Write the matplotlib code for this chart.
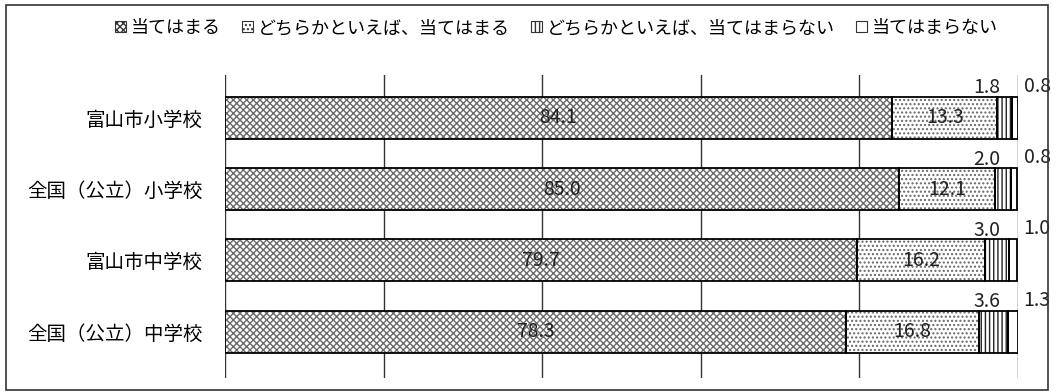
import matplotlib.pyplot as plt
from matplotlib.patches import Rectangle, Patch

plt.rcParams['font.family'] = ['Noto Sans CJK JP', 'DejaVu Sans']
plt.rcParams['hatch.linewidth'] = 1.0

# data
schools = ['富山市小学校', '全国（公立）小学校', '富山市中学校', '全国（公立）中学校']
series_names = ['当てはまる', 'どちらかといえば、当てはまる',
                'どちらかといえば、当てはまらない', '当てはまらない']
agree = [84.1, 85.0, 79.7, 78.3]
rather_agree = [13.3, 12.1, 16.2, 16.8]
rather_disagree = [1.8, 2.0, 3.0, 3.6]
disagree = [0.8, 0.8, 1.0, 1.3]

series = [agree, rather_agree, rather_disagree, disagree]
hatches = ['xxxxx', '....', '||||', '']
hatch_colors = ['#6a6a6a', '#666666', '#222222', 'black']

fig = plt.figure(figsize=(10.56, 3.92), dpi=100)
ax = fig.add_axes([225 / 1056, 1 - 378 / 392, (1018 - 225) / 1056, 303 / 392])

y = list(range(len(schools)))
left = [0.0] * len(schools)
handles = []
for vals, name, h, hc in zip(series, series_names, hatches, hatch_colors):
    # hatch layer in grey, then a black outline on top
    ax.barh(y, vals, left=left, height=0.59, color='white',
            edgecolor=hc, linewidth=0, hatch=h, zorder=2)
    ax.barh(y, vals, left=left, height=0.59, fill=False,
            edgecolor='black', linewidth=1.3, zorder=2.5)
    handles.append(Patch(facecolor='white', edgecolor='#333333', hatch=h,
                         linewidth=0.8, label=name))
    left = [a + b for a, b in zip(left, vals)]

for i in y:
    ax.text(agree[i] / 2, i, f'{agree[i]:.1f}', ha='center', va='center',
            fontsize=14, color='#222222', zorder=3)
    ax.text(agree[i] + rather_agree[i] / 2, i, f'{rather_agree[i]:.1f}',
            ha='center', va='center', fontsize=14, color='#222222', zorder=3)
    ax.text(97.8, i - 0.42, f'{rather_disagree[i]:.1f}', ha='right', va='center',
            fontsize=14, color='#222222')
    ax.text(100.7, i - 0.44, f'{disagree[i]:.1f}', ha='left', va='center',
            fontsize=14, color='#222222')

ax.set_xlim(0, 100)
ax.set_ylim(3.65, -0.6)
ax.set_xticks([0, 20, 40, 60, 80, 100])
ax.set_xticklabels([])
ax.tick_params(axis='x', length=0)
ax.grid(axis='x', color='#333333', linewidth=1.0, zorder=0)
ax.set_axisbelow(True)
ax.set_yticks(y)
ax.set_yticklabels(schools, fontsize=14)
ax.tick_params(axis='y', length=0, pad=16)
for s in ax.spines.values():
    s.set_visible(False)

fig.legend(handles=handles, loc='center', bbox_to_anchor=(0.527, 1 - 28 / 392),
           ncol=4, frameon=False, fontsize=13, handlelength=0.6, handleheight=0.6,
           handletextpad=0.25, columnspacing=1.2)

# outer frame
fig.patches.append(Rectangle((6 / 1056, 2 / 392), 1042 / 1056, 385 / 392,
                             transform=fig.transFigure, fill=False,
                             edgecolor='#333333', linewidth=1.2))

fig.savefig('out.png', dpi=100)
